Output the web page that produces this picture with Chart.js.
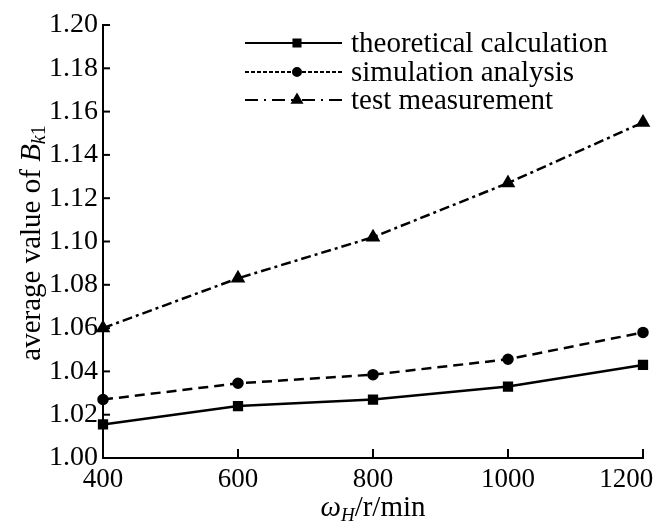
<!DOCTYPE html>
<html>
<head>
<meta charset="utf-8">
<script src="https://cdn.jsdelivr.net/npm/chart.js@4/dist/chart.umd.min.js"></script>
<style>
  html, body { margin: 0; padding: 0; background: #fff; }
  #wrap { width: 657px; height: 524px; }
</style>
</head>
<body>
<div id="wrap"><canvas id="grafica" width="657" height="524"></canvas></div>
<script>
const velocidades = [400, 600, 800, 1000, 1200]
const teorico = [1.0155, 1.024, 1.027, 1.033, 1.043]
const simulacion = [1.027, 1.0345, 1.0385, 1.0456, 1.058]
const prueba = [1.060, 1.083, 1.102, 1.127, 1.155]
const nombres = ['theoretical calculation', 'simulation analysis', 'test measurement']

const SERIF = '"Liberation Serif", "Times New Roman", serif'

const puntos = (valores) => velocidades.map((v, i) => ({ x: v, y: valores[i] }))

// ticks hacia adentro, titulos de ejes y leyenda
const extras = {
    id: 'extras',
    afterDraw(chart) {
        const ctx = chart.ctx
        const { x, y } = chart.scales
        const area = chart.chartArea
        ctx.save()
        ctx.strokeStyle = '#000'
        ctx.lineWidth = 2
        y.ticks.forEach(t => {
            const py = y.getPixelForValue(t.value)
            ctx.beginPath(); ctx.moveTo(area.left, py); ctx.lineTo(area.left + 7, py); ctx.stroke()
        })
        x.ticks.forEach(t => {
            const px = x.getPixelForValue(t.value)
            ctx.beginPath(); ctx.moveTo(px, area.bottom); ctx.lineTo(px, area.bottom - 9); ctx.stroke()
        })

        // titulo eje x
        ctx.fillStyle = '#000'
        ctx.textBaseline = 'alphabetic'
        const partesX = [
            { t: 'ω', f: 'italic 29px ' + SERIF, dy: 0 },
            { t: 'H', f: 'italic 19px ' + SERIF, dy: 5 },
            { t: '/r/min', f: '29px ' + SERIF, dy: 0 }
        ]
        dibujarPartes(ctx, partesX, 373, 516)

        // titulo eje y
        ctx.save()
        ctx.translate(40, 243)
        ctx.rotate(-Math.PI / 2)
        const partesY = [
            { t: 'average value of ', f: '29px ' + SERIF, dy: 0 },
            { t: 'B', f: 'italic 29px ' + SERIF, dy: 0 },
            { t: 'k', f: 'italic 20px ' + SERIF, dy: 5 },
            { t: '1', f: '20px ' + SERIF, dy: 5 }
        ]
        dibujarPartes(ctx, partesY, 0, 0)
        ctx.restore()

        // leyenda
        const estilos = [
            { dash: [], punto: 'rect', r: 5 },
            { dash: [4, 2], punto: 'circle', r: 4 },
            { dash: [13, 6, 2, 6], punto: 'triangle', r: 5.5 }
        ]
        const filas = [43, 72, 100]
        nombres.forEach((n, i) => {
            const fy = filas[i]
            ctx.setLineDash(estilos[i].dash)
            ctx.lineWidth = 2
            ctx.beginPath(); ctx.moveTo(245, fy); ctx.lineTo(297, fy); ctx.stroke()
            ctx.beginPath(); ctx.moveTo(342, fy); ctx.lineTo(297, fy); ctx.stroke()
            ctx.setLineDash([])
            Chart.helpers.drawPoint(ctx, { pointStyle: estilos[i].punto, radius: estilos[i].r, borderWidth: 1 }, 297, fy)
            ctx.fill()
            ctx.font = '29px ' + SERIF
            ctx.textAlign = 'left'
            ctx.textBaseline = 'middle'
            ctx.fillText(n, 351, fy + 1)
        })
        ctx.restore()
    }
}

function dibujarPartes(ctx, partes, cx, base) {
    let total = 0
    partes.forEach(p => { ctx.font = p.f; total += ctx.measureText(p.t).width })
    let px = cx - total / 2
    ctx.textAlign = 'left'
    partes.forEach(p => {
        ctx.font = p.f
        ctx.fillText(p.t, px, base + p.dy)
        px += ctx.measureText(p.t).width
    })
}

const canvas = document.getElementById('grafica')
const context = canvas.getContext('2d')

const grafica = new Chart(context, {
    type: 'line',
    data: {
        datasets: [
            {
                label: nombres[0],
                data: puntos(teorico),
                borderColor: '#000',
                backgroundColor: '#000',
                borderWidth: 2.5,
                pointStyle: 'rect',
                pointRadius: 5.5
            },
            {
                label: nombres[1],
                data: puntos(simulacion),
                borderColor: '#000',
                backgroundColor: '#000',
                borderWidth: 2.5,
                borderDash: [10, 6],
                pointStyle: 'circle',
                pointRadius: 4.5
            },
            {
                label: nombres[2],
                data: puntos(prueba),
                borderColor: '#000',
                backgroundColor: '#000',
                borderWidth: 2.5,
                borderDash: [10, 4, 3, 4],
                pointStyle: 'triangle',
                pointRadius: 6
            }
        ]
    },
    options: {
        responsive: false,
        animation: false,
        clip: false,
        layout: { padding: { left: 0, right: 14, top: 25, bottom: 0 } },
        plugins: { legend: { display: false }, tooltip: { enabled: false } },
        scales: {
            x: {
                type: 'linear',
                min: 400,
                max: 1200,
                ticks: {
                    stepSize: 200, color: '#000', font: { family: SERIF, size: 27 }, padding: 6, maxRotation: 0,
                    // la ultima etiqueta queda corrida a la izquierda como en el original
                    callback: (v) => v === 1200 ? String(v) + '     ' : String(v)
                },
                grid: { display: false, drawTicks: false },
                border: { display: true, color: '#000', width: 2 },
                afterFit(scale) { scale.height = 66; scale.paddingRight = 0; scale.paddingLeft = 0 }
            },
            y: {
                min: 1.0,
                max: 1.2,
                ticks: {
                    stepSize: 0.02, color: '#000', font: { family: SERIF, size: 28 }, padding: 5,
                    callback: (v) => v.toFixed(2)
                },
                grid: { display: false, drawTicks: false },
                border: { display: true, color: '#000', width: 2 },
                afterFit(scale) { scale.width = 103; scale.paddingTop = 0; scale.paddingBottom = 0 }
            }
        }
    },
    plugins: [extras]
})
</script>
</body>
</html>
